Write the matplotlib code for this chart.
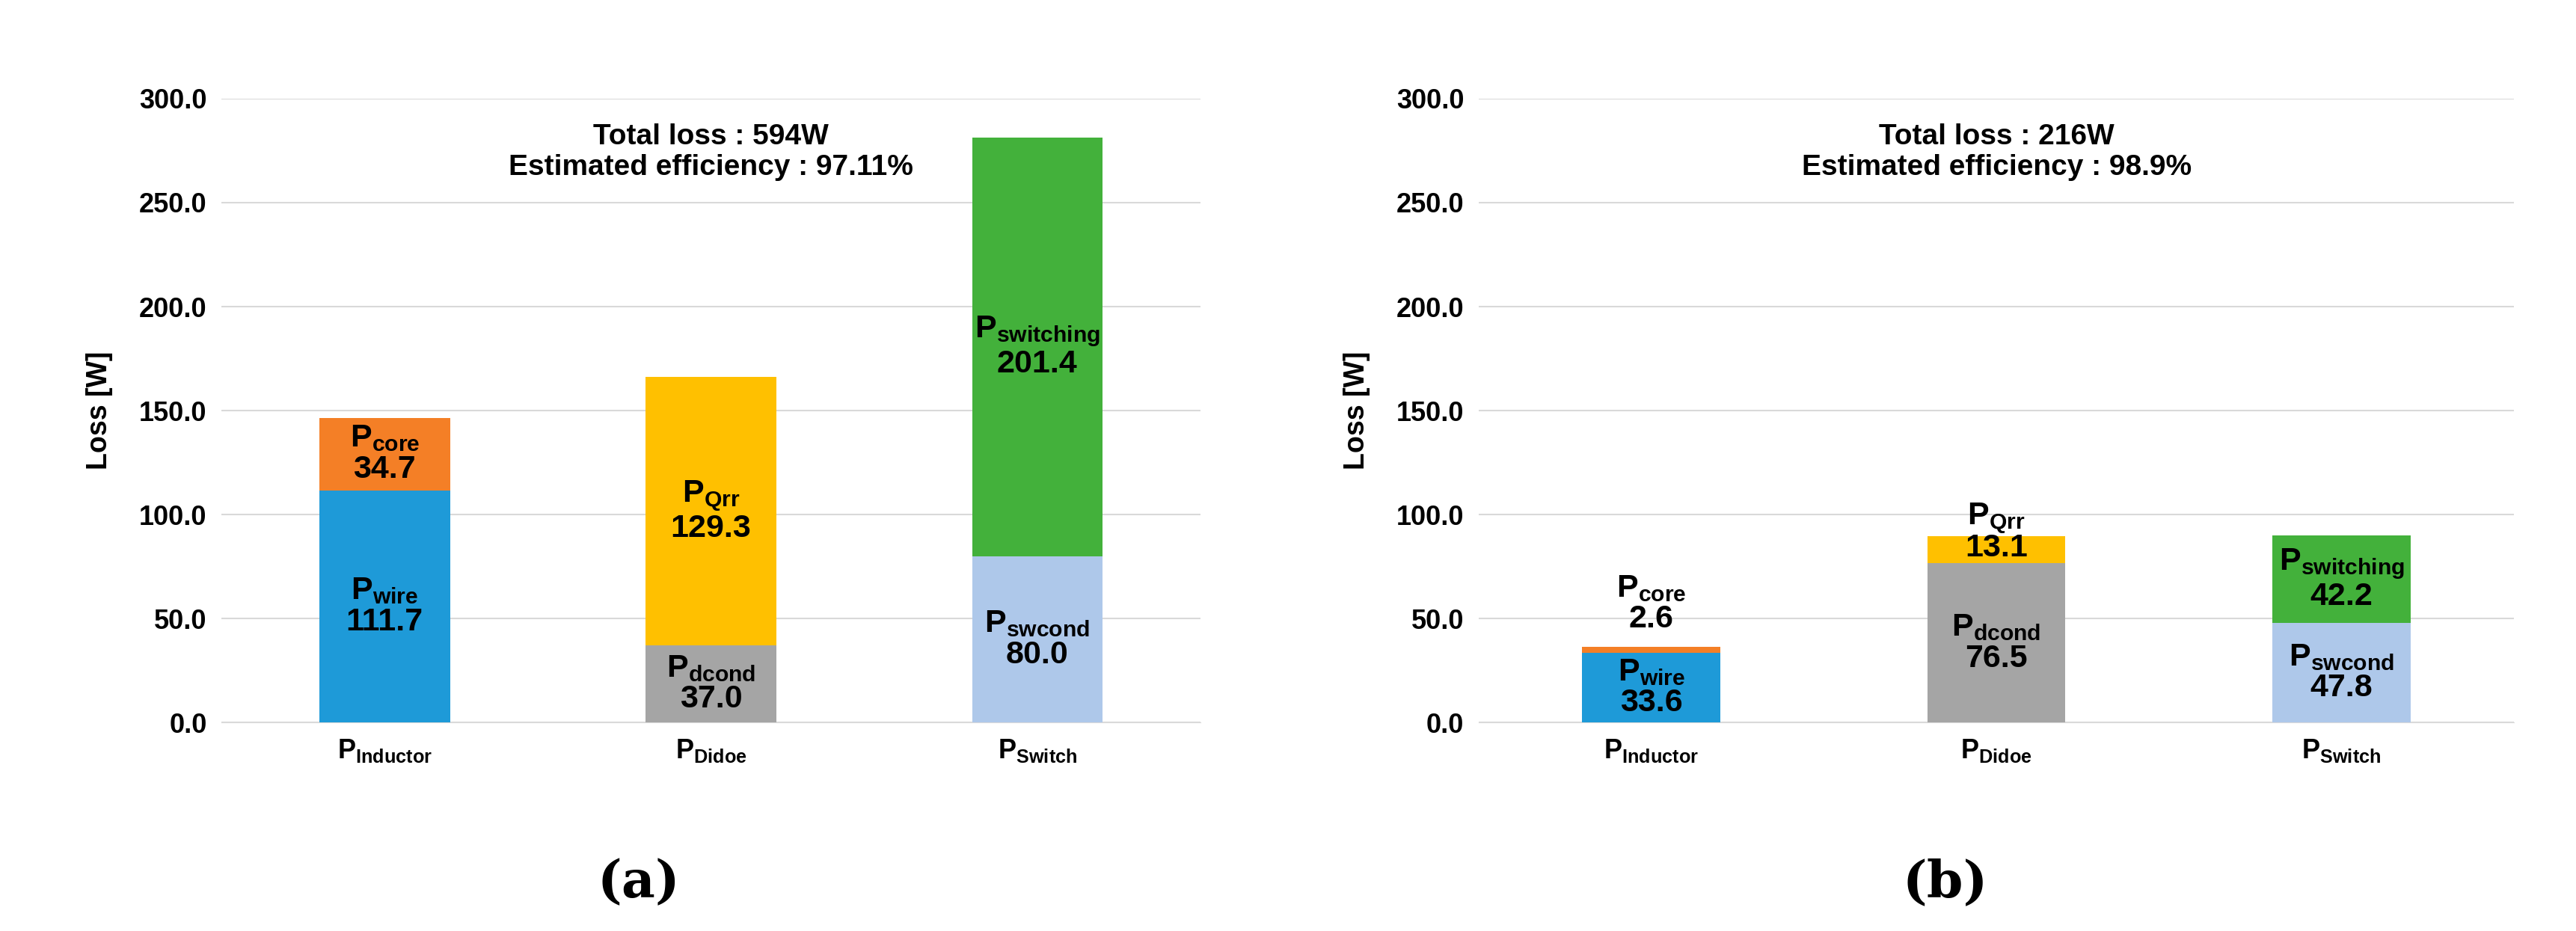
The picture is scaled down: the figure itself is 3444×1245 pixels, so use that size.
import numpy as np
import matplotlib
matplotlib.use("Agg")
import matplotlib.pyplot as plt

plt.rcParams['font.family'] = ['Liberation Sans', 'DejaVu Sans']
plt.rcParams['font.weight'] = 'bold'
plt.rcParams['mathtext.fontset'] = 'custom'
plt.rcParams['mathtext.rm'] = 'Liberation Sans:bold'
plt.rcParams['mathtext.it'] = 'Liberation Sans:bold'

cats = [r"P$_\mathrm{Inductor}$", r"P$_\mathrm{Didoe}$", r"P$_\mathrm{Switch}$"]
bottom_names = ["wire", "dcond", "swcond"]
top_names = ["core", "Qrr", "switching"]
bottom_colors = ["#1e9ad8", "#a5a5a5", "#aec8ea"]
top_colors = ["#f47f26", "#ffc000", "#43b13b"]

a_bottom = [111.7, 37.0, 80.0]
a_top = [34.7, 129.3, 201.4]
b_bottom = [33.6, 76.5, 47.8]
b_top = [2.6, 13.1, 42.2]
titles = ["Total loss : 594W\nEstimated efficiency : 97.11%",
          "Total loss : 216W\nEstimated efficiency : 98.9%"]

fig = plt.figure(figsize=(34.44, 12.45), dpi=100)
axes = [fig.add_axes([0.086, 0.224, 0.38, 0.67]),
        fig.add_axes([0.574, 0.224, 0.402, 0.67])]

x = np.arange(3)
for k, (ax, bot, top) in enumerate(zip(axes, [a_bottom, b_bottom], [a_top, b_top])):
    ax.bar(x, bot, 0.4, color=bottom_colors, zorder=3)
    ax.bar(x, top, 0.4, bottom=bot, color=top_colors, zorder=3)
    ax.set_xlim(-0.5, 2.5)
    ax.set_ylim(0, 300)
    ax.set_yticks(np.arange(0, 301, 50))
    ax.set_yticklabels([f"{v:.1f}" for v in np.arange(0, 301, 50)], fontsize=26, fontweight='bold')
    ax.set_xticks(x)
    ax.set_xticklabels(cats, fontsize=26)
    ax.tick_params(length=0, pad=14)
    ax.yaxis.grid(True, color="#d9d9d9", lw=1.5, zorder=0)
    for s in ["top", "right", "left"]:
        ax.spines[s].set_visible(False)
    ax.spines["bottom"].set_color("#d9d9d9")
    ax.set_ylabel("Loss [W]", fontsize=27, fontweight='bold', labelpad=25)
    ax.text(1, 288, titles[k], ha='center', va='top', fontsize=28, fontweight='bold',
            linespacing=1.15)
    for i in range(3):
        b, t = bot[i], top[i]
        if b > 25:
            ax.text(i, b / 2, f"P$_\\mathrm{{{bottom_names[i]}}}$\n{b:.1f}", ha='center', va='center',
                    fontsize=31, fontweight='bold', linespacing=1.05, zorder=5)
        if t > 25:
            ax.text(i, b + t / 2, f"P$_\\mathrm{{{top_names[i]}}}$\n{t:.1f}", ha='center', va='center',
                    fontsize=31, fontweight='bold', linespacing=1.05, zorder=5)
    if k == 1:
        ax.text(0, 57, f"P$_\\mathrm{{core}}$\n{b_top[0]:.1f}", ha='center', va='center',
                fontsize=31, fontweight='bold', linespacing=1.05, zorder=5)
        ax.text(1, 98, r"P$_\mathrm{Qrr}$", ha='center', va='center', fontsize=31, fontweight='bold', zorder=5)
        ax.text(1, 84, f"{b_top[1]:.1f}", ha='center', va='center', fontsize=31, fontweight='bold', zorder=5)

fig.text(0.248, 0.025, "(a)", ha='center', va='bottom', fontsize=50, family='DejaVu Serif', fontweight='bold')
fig.text(0.755, 0.025, "(b)", ha='center', va='bottom', fontsize=50, family='DejaVu Serif', fontweight='bold')

fig.savefig("out.png", dpi=100)
